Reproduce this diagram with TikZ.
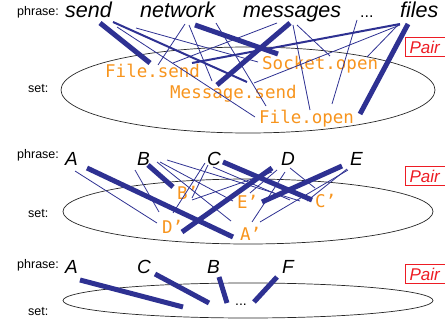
\documentclass[tikz,border=0pt]{standalone}
\usepackage{fontspec}
\setmainfont{Liberation Sans}
\setmonofont{DejaVu Sans Mono}
\usetikzlibrary{calc}

\definecolor{linkblue}{RGB}{46,49,146}
\definecolor{setorange}{RGB}{247,148,29}
\definecolor{pairred}{RGB}{237,28,36}

\begin{document}
\begin{tikzpicture}[x=1pt, y=-1pt,
  word/.style={anchor=base west, inner sep=0pt, font=\fontsize{21.5}{24}\selectfont\itshape},
  letter/.style={anchor=base west, inner sep=0pt, font=\fontsize{19}{22}\selectfont\itshape},
  elem/.style={anchor=base west, inner sep=0pt, text=setorange, font=\fontsize{17.5}{20}\selectfont\ttfamily},
  tag/.style={anchor=base west, inner sep=0pt, font=\fontsize{12.5}{14}\selectfont},
  pairbox/.style={draw=pairred, line width=1.2pt, anchor=west, text=pairred,
    font=\fontsize{17}{20}\selectfont\itshape, text width=60pt, minimum height=19pt,
    inner xsep=4pt, inner ysep=0pt, align=left},
  setellipse/.style={line width=0.7pt, black!85},
  thinlink/.style={linkblue, line width=0.8pt},
  midlink/.style={linkblue, line width=2pt},
  boldlink/.style={linkblue, line width=5pt}]
  \clip (0,0) rectangle (445,321);

  % ---- first row: words and methods
  \draw[setellipse] (248,90) ellipse [x radius=187pt, y radius=43pt];
  \node[tag] (ph1) at (17,16) {phrase:};
  \node[tag] (st1) at (28,93) {set:};
  \node[word] (send) at (65,18) {send};
  \node[word] (network) at (140,18) {network};
  \node[word] (messages) at (243,18) {messages};
  \node[word, font=\fontsize{16}{18}\selectfont] (more) at (360,18) {...};
  \node[word] (files) at (400,18) {files};
  \node[elem] (fsend) at (105,78) {File.send};
  \node[elem] (sopen) at (262,70) {Socket.open};
  \node[elem] (msend) at (170,99) {Message.send};
  \node[elem] (fopen) at (259,124) {File.open};
  \node[pairbox] (pair1) at (405,47) {Pair};

  \draw[thinlink] ($(send.base west)+(52,9)$) -- ($(fopen.base west)+(-4,-7)$);
  \draw[thinlink] ($(send.base west)+(71,10)$) -- ($(sopen.base west)+(-4,-8)$);
  \draw[thinlink] ($(network.base west)+(45,6)$) -- ($(fsend.base west)+(53,-13)$);
  \draw[thinlink] ($(network.base west)+(49,7)$) -- ($(msend.base west)+(42,-18)$);
  \draw[thinlink] ($(network.base west)+(76,5)$) -- ($(fopen.base west)+(7,-18)$);
  \draw[thinlink] ($(messages.base west)+(34,5)$) -- ($(fsend.base west)+(68,-15)$);
  \draw[thinlink] ($(messages.base west)+(50,7)$) -- ($(fopen.base west)+(51,-14)$);
  \draw[thinlink] ($(messages.base west)+(54,7)$) -- ($(sopen.base west)+(68,-14)$);
  \draw[thinlink] ($(more.base west)+(-3,2)$) -- ($(fopen.base west)+(73,-20)$);
  \draw[thinlink] ($(files.base west)+(0,7)$) -- ($(msend.base west)+(84,-16)$);
  \draw[thinlink] ($(files.base west)+(-2,7)$) -- ($(sopen.base west)+(105,-13)$);
  \draw[midlink] ($(send.base west)+(48,4)$) -- ($(msend.base west)+(77,-17)$);
  \draw[midlink] ($(files.base west)+(0,6)$) -- ($(fsend.base west)+(87,-15)$);
  \draw[boldlink] ($(send.base west)+(35,5)$) -- ($(fsend.base west)+(45,-15)$);
  \draw[boldlink] ($(network.base west)+(55,7)$) -- ($(sopen.base west)+(16,-16)$);
  \draw[boldlink] ($(messages.base west)+(47,5)$) -- ($(msend.base west)+(47,-14)$);
  \draw[boldlink] ($(files.base west)+(8,6)$) -- ($(fopen.base west)+(101,-10)$);

  % ---- second row: letters
  \draw[setellipse] (248,211.5) ellipse [x radius=185pt, y radius=32.5pt];
  \node[tag] (ph2) at (17,158) {phrase:};
  \node[tag] (st2) at (28,217) {set:};
  \node[letter] (a) at (65,165) {A};
  \node[letter] (b) at (137,165) {B};
  \node[letter] (c) at (207,165) {C};
  \node[letter] (d) at (281,165) {D};
  \node[letter] (e) at (350,165) {E};
  \node[elem] (b') at (177,199) {B’};
  \node[elem] (e') at (237,208) {E’};
  \node[elem] (c') at (315,207) {C’};
  \node[elem] (d') at (162,233) {D’};
  \node[elem] (a') at (240,240) {A’};
  \node[pairbox] (pair2) at (405,176) {Pair};

  \draw[thinlink] ($(a.base west)+(10,6)$) -- ($(d'.base west)+(-5,-10)$);
  \draw[thinlink] ($(b.base west)+(-2,5)$) -- ($(d'.base west)+(-3,-21)$);
  \draw[thinlink] ($(b.base west)+(20,-3)$) -- ($(a'.base west)+(-9,-19)$);
  \draw[thinlink] ($(b.base west)+(23,-3)$) -- ($(e'.base west)+(-4,-7)$);
  \draw[thinlink] ($(b.base west)+(30,-5)$) -- ($(c'.base west)+(-15,-6)$);
  \draw[thinlink] ($(c.base west)+(-2,-2)$) -- ($(d'.base west)+(11,-20)$);
  \draw[thinlink] ($(c.base west)+(1,0)$) -- ($(b'.base west)+(15,-1)$);
  \draw[thinlink] ($(c.base west)+(6,2)$) -- ($(c'.base west)+(-25,-7)$);
  \draw[thinlink] ($(d.base west)+(-9,7)$) -- ($(b'.base west)+(15,1)$);
  \draw[thinlink] ($(d.base west)+(-4,5)$) -- ($(e'.base west)+(13,-15)$);
  \draw[thinlink] ($(d.base west)+(4,7)$) -- ($(a'.base west)+(12,-18)$);
  \draw[thinlink] ($(d.base west)+(9,3)$) -- ($(c'.base west)+(0,-19)$);
  \draw[thinlink] ($(e.base west)+(-3,4)$) -- ($(c'.base west)+(-8,-6)$);
  \draw[thinlink] ($(e.base west)+(-2,5)$) -- ($(a'.base west)+(20,-18)$);
  \draw[boldlink] ($(a.base west)+(22,3)$) -- ($(a'.base west)+(-7,-3)$);
  \draw[boldlink] ($(b.base west)+(11,0)$) -- ($(b'.base west)+(-4,-12)$);
  \draw[boldlink] ($(c.base west)+(16,-3)$) -- ($(c'.base west)+(-3,-7)$);
  \draw[boldlink] ($(d.base west)+(-9,3)$) -- ($(d'.base west)+(20,-1)$);
  \draw[boldlink] ($(e.base west)+(-8,1)$) -- ($(e'.base west)+(25,-6)$);

  % ---- third row
  \draw[setellipse] (248,300.5) ellipse [x radius=185pt, y radius=17.5pt];
  \node[tag] (ph3) at (17,268) {phrase:};
  \node[tag] (st3) at (28,315) {set:};
  \node[letter] (a3) at (65,273) {A};
  \node[letter] (c3) at (137,273) {C};
  \node[letter] (b3) at (207,273) {B};
  \node[letter] (f3) at (282,273) {F};
  \node[anchor=base west, inner sep=0pt, font=\fontsize{14}{16}\selectfont] (rest) at (235,305) {...};
  \node[pairbox] (pair3) at (405,274) {Pair};

  \draw[boldlink] ($(a3.base west)+(15,7)$) -- ($(rest.base west)+(-52,2)$);
  \draw[boldlink] ($(c3.base west)+(18,1)$) -- ($(rest.base west)+(-26,-2)$);
  \draw[boldlink] ($(b3.base west)+(12,4)$) -- ($(rest.base west)+(-8,-2)$);
  \draw[boldlink] ($(f3.base west)+(-5,4)$) -- ($(rest.base west)+(19,-3)$);
\end{tikzpicture}
\end{document}
